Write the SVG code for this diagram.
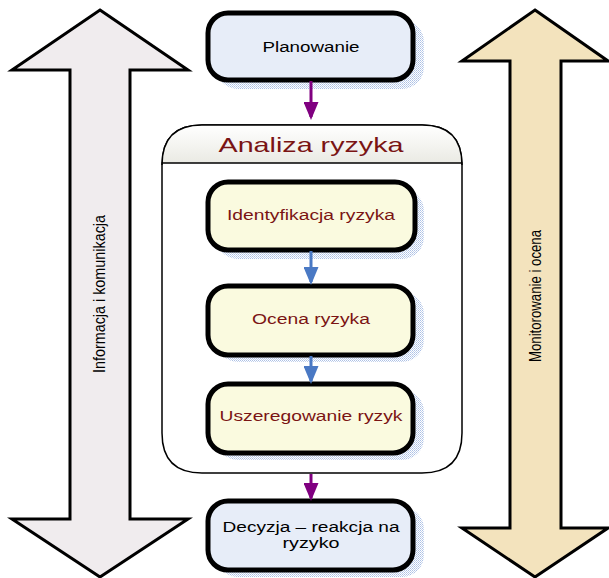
<svg xmlns="http://www.w3.org/2000/svg" width="609" height="578" viewBox="0 0 609 578">
  <style>
    .box { stroke: #000; stroke-width: 5; }
    .blue { fill: #e7edf8; }
    .yellow { fill: #fafadf; }
    .shadow { fill: url(#dots); opacity: 0.85; }
    .lbl { font-family: "Liberation Sans", Arial, sans-serif; font-size: 15.5px; text-anchor: middle; }
    .red { fill: #7a1414; }
    .side { font-family: "Liberation Sans", Arial, sans-serif; font-size: 16px; text-anchor: middle; fill: #000; }
    .big { stroke: #000; stroke-width: 3; stroke-linejoin: miter; }
    .purple { stroke: #800080; stroke-width: 3; fill: none; }
    .bluecon { stroke: #4a79c4; stroke-width: 3; fill: none; }
  </style>
  <defs>
    <pattern id="dots" width="2" height="2" patternUnits="userSpaceOnUse">
      <rect width="2" height="2" fill="#ffffff"/>
      <rect width="1" height="1" fill="#9fb6e0"/>
      <rect x="1" y="1" width="1" height="1" fill="#b9cbea"/>
    </pattern>
    <linearGradient id="hdr" x1="0" y1="0" x2="0" y2="1">
      <stop offset="0" stop-color="#ffffff"/>
      <stop offset="1" stop-color="#e9e9e2"/>
    </linearGradient>
    <marker id="headP" markerWidth="6" markerHeight="5" refX="5" refY="2.5" orient="auto" markerUnits="strokeWidth">
      <path d="M0,0 L6,2.5 L0,5 Z" fill="#800080"/>
    </marker>
    <marker id="headB" markerWidth="6" markerHeight="5" refX="5" refY="2.5" orient="auto" markerUnits="strokeWidth">
      <path d="M0,0 L6,2.5 L0,5 Z" fill="#4a79c4"/>
    </marker>
  </defs>

  <!-- side double arrows -->
  <g id="info">
    <path class="big" fill="#f0ecee" d="M100,10 L188,70 L130,70 L130,519 L188,519 L100,577 L12,519 L70,519 L70,70 L12,70 Z"/>
    <text class="side" transform="translate(105,294) rotate(-90)" textLength="158" lengthAdjust="spacingAndGlyphs">Informacja i komunikacja</text>
  </g>
  <g id="monitor">
    <path class="big" fill="#f3e3bd" d="M535,10 L608,61 L561,61 L561,528 L608,528 L535,577 L462,528 L510,528 L510,61 L462,61 Z"/>
    <text class="side" transform="translate(541,296) rotate(-90)" textLength="132" lengthAdjust="spacingAndGlyphs">Monitorowanie i ocena</text>
  </g>

  <!-- risk analysis container -->
  <g id="analiza">
    <path fill="#ffffff" stroke="#000" stroke-width="1.5" d="M202,125 L422,125 Q462,125 462,165 L462,433 Q462,473 422,473 L202,473 Q162,473 162,433 L162,165 Q162,125 202,125 Z"/>
    <path fill="url(#hdr)" stroke="#000" stroke-width="1.5" d="M162,163 L162,165 Q162,125 202,125 L422,125 Q462,125 462,165 L462,163 Z"/>
    <text x="311" y="152" font-family="Liberation Sans, Arial, sans-serif" font-size="21" text-anchor="middle" fill="#7a1414" textLength="185" lengthAdjust="spacingAndGlyphs">Analiza ryzyka</text>
  </g>

  <g id="planowanie">
    <rect class="shadow" x="216" y="20" width="208" height="69" rx="22"/>
    <rect class="box blue" x="208" y="13" width="205" height="67" rx="20"/>
    <text class="lbl" x="311" y="52" textLength="97" lengthAdjust="spacingAndGlyphs">Planowanie</text>
  </g>

  <g id="identyfikacja">
    <rect class="shadow" x="216" y="189" width="208" height="70" rx="22"/>
    <rect class="box yellow" x="208" y="182" width="207" height="68" rx="20"/>
    <text class="lbl red" x="311" y="220" textLength="168" lengthAdjust="spacingAndGlyphs">Identyfikacja ryzyka</text>
  </g>

  <g id="ocena">
    <rect class="shadow" x="216" y="292" width="208" height="70" rx="22"/>
    <rect class="box yellow" x="208" y="286" width="205" height="69" rx="20"/>
    <text class="lbl red" x="311" y="324" textLength="118" lengthAdjust="spacingAndGlyphs">Ocena ryzyka</text>
  </g>

  <g id="uszeregowanie">
    <rect class="shadow" x="216" y="390" width="208" height="70" rx="22"/>
    <rect class="box yellow" x="208" y="384" width="205" height="69" rx="20"/>
    <text class="lbl red" x="311" y="421" textLength="183" lengthAdjust="spacingAndGlyphs">Uszeregowanie ryzyk</text>
  </g>

  <g id="decyzja">
    <rect class="shadow" x="216" y="507" width="208" height="70" rx="22"/>
    <rect class="box blue" x="208" y="501" width="205" height="69" rx="20"/>
    <text class="lbl" x="311" y="532" font-size="14" textLength="177" lengthAdjust="spacingAndGlyphs">Decyzja – reakcja na</text>
    <text class="lbl" x="311" y="548" font-size="14" textLength="57" lengthAdjust="spacingAndGlyphs">ryzyko</text>
  </g>

  <!-- connectors -->
  <g id="connectors">
    <line class="purple" x1="311" y1="81" x2="311" y2="117" marker-end="url(#headP)"/>
    <line class="bluecon" x1="311" y1="251" x2="311" y2="282" marker-end="url(#headB)"/>
    <line class="bluecon" x1="311" y1="356" x2="311" y2="381" marker-end="url(#headB)"/>
    <line class="purple" x1="311" y1="474" x2="311" y2="498" marker-end="url(#headP)"/>
  </g>
</svg>
